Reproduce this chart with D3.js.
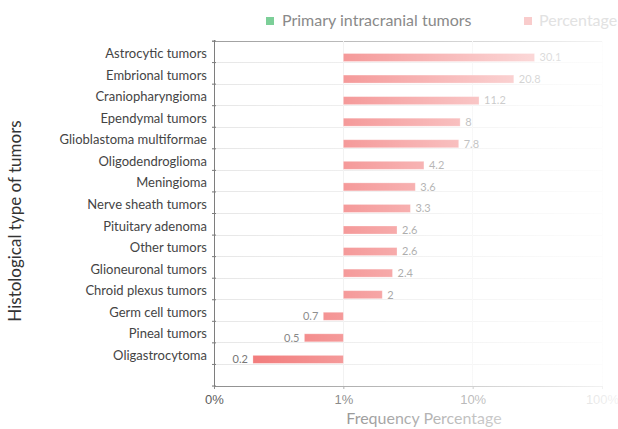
<!DOCTYPE html>
<html>
<head>
<meta charset="utf-8">
<script src="https://cdn.jsdelivr.net/npm/d3@7"></script>
<style>
  body { margin: 0; background: #fff; }
  svg { font-family: Lato, "Open Sans", sans-serif; display: block; }
</style>
</head>
<body>
<svg id="chart" width="618" height="429"></svg>
<script>
// data
const tumors = ["Astrocytic tumors", "Embrional tumors", "Craniopharyngioma", "Ependymal tumors",
  "Glioblastoma multiformae", "Oligodendroglioma", "Meningioma", "Nerve sheath tumors",
  "Pituitary adenoma", "Other tumors", "Glioneuronal tumors", "Chroid plexus tumors",
  "Germ cell tumors", "Pineal tumors", "Oligastrocytoma"]
const percentage = [30.1, 20.8, 11.2, 8, 7.8, 4.2, 3.6, 3.3, 2.6, 2.6, 2.4, 2, 0.7, 0.5, 0.2]
const tickValues = [0.1, 1, 10, 100]
const tickLabels = ["0%", "1%", "10%", "100%"]
const legendNames = ["Primary intracranial tumors", "Percentage"]

const svg = d3.select("#chart")
let plotLeft = 214, plotRight = 602, plotTop = 41, plotBottom = 386

let x = d3.scaleLog().domain([0.1, 100]).range([plotLeft, plotRight])
// one empty band at the bottom, as in the original
let y = d3.scaleBand().domain(tumors.concat([""])).range([plotTop, plotBottom])
let bw = y.bandwidth()

let defs = svg.append("defs")
let fade = defs.append("linearGradient")
  .attr("id", "fade")
  .attr("gradientUnits", "userSpaceOnUse")
  .attr("x1", 190).attr("x2", 618).attr("y1", 0).attr("y2", 0)
fade.append("stop").attr("offset", 0).attr("stop-color", "#fff").attr("stop-opacity", 0)
fade.append("stop").attr("offset", 1).attr("stop-color", "#fff").attr("stop-opacity", 0.92)

// horizontal grid at band boundaries
svg.append("g").selectAll("line")
  .data(d3.range(y.domain().length + 1))
  .join("line")
    .attr("x1", plotLeft - 2).attr("x2", plotRight)
    .attr("y1", i => plotTop + i * bw).attr("y2", i => plotTop + i * bw)
    .attr("stroke", (d, i) => i == 0 ? "#999" : "#e6e6e6")
    .attr("shape-rendering", "crispEdges")

// vertical grid
svg.append("g").selectAll("line")
  .data(tickValues.slice(1))
  .join("line")
    .attr("x1", d => x(d)).attr("x2", d => x(d))
    .attr("y1", plotTop).attr("y2", plotBottom)
    .attr("stroke", "#ececec")
    .attr("shape-rendering", "crispEdges")

// x axis
let xAxis = svg.append("g")
  .attr("transform", "translate(0," + plotBottom + ")")
  .call(d3.axisBottom(x).tickValues(tickValues).tickSize(3)
    .tickFormat((d, i) => tickLabels[i]))
xAxis.select(".domain").attr("stroke", "#888")
xAxis.selectAll(".tick line").attr("stroke", "#888")
xAxis.selectAll("text")
  .attr("fill", "#555")
  .attr("font-size", 13)
  .attr("dy", "0.95em")

// left axis line + ticks
svg.append("line")
  .attr("x1", plotLeft).attr("x2", plotLeft).attr("y1", plotTop - 1).attr("y2", plotBottom)
  .attr("stroke", "#777")
  .attr("shape-rendering", "crispEdges")
svg.append("g").selectAll("line")
  .data(d3.range(y.domain().length + 1))
  .join("line")
    .attr("x1", plotLeft - 2).attr("x2", plotLeft + 2)
    .attr("y1", i => plotTop + i * bw).attr("y2", i => plotTop + i * bw)
    .attr("stroke", "#777")

// category labels
svg.append("g").selectAll("text")
  .data(tumors)
  .join("text")
    .attr("x", 207)
    .attr("y", d => y(d) + 17)
    .attr("text-anchor", "end")
    .attr("font-size", 13)
    .attr("fill", "#444")
    .text(d => d)

// bars from the 1% baseline
let barOff = 12.5, barH = 8
svg.append("g").selectAll("rect")
  .data(tumors)
  .join("rect")
    .attr("x", (d, i) => Math.min(x(1), x(percentage[i])))
    .attr("y", d => y(d) + barOff)
    .attr("width", (d, i) => Math.abs(x(percentage[i]) - x(1)))
    .attr("height", barH)
    .attr("fill", "#f06868")
    .attr("stroke", "#fff")
    .attr("stroke-opacity", 0.35)
    .attr("stroke-width", 0.8)

// value labels
svg.append("g").selectAll("text")
  .data(tumors)
  .join("text")
    .attr("x", (d, i) => percentage[i] >= 1 ? x(percentage[i]) + 5 : x(percentage[i]) - 5)
    .attr("y", d => y(d) + barOff + barH / 2)
    .attr("dy", "0.35em")
    .attr("text-anchor", (d, i) => percentage[i] >= 1 ? "start" : "end")
    .attr("font-size", 11)
    .attr("fill", "#666")
    .text((d, i) => percentage[i])

// axis titles
svg.append("text")
  .attr("x", 424).attr("y", 424)
  .attr("text-anchor", "middle")
  .attr("font-size", 16)
  .attr("fill", "#666")
  .text("Frequency Percentage")

svg.append("text")
  .attr("transform", "translate(21,221) rotate(-90)")
  .attr("text-anchor", "middle")
  .attr("font-size", 17)
  .attr("fill", "#333")
  .text("Histological type of tumors")

// fading towards the right, like the original picture
svg.append("rect")
  .attr("x", 190).attr("y", 34)
  .attr("width", 428).attr("height", 395)
  .attr("fill", "url(#fade)")

// legend
let legend = svg.append("g")
legend.selectAll("rect")
  .data(legendNames)
  .join("rect")
    .attr("x", (d, i) => i == 0 ? 266 : 524)
    .attr("y", 17)
    .attr("width", 8).attr("height", 8)
    .attr("fill", (d, i) => i == 0 ? "#7ccf98" : "#f9cccc")
legend.selectAll("text")
  .data(legendNames)
  .join("text")
    .attr("x", (d, i) => i == 0 ? 282 : 539)
    .attr("y", 26)
    .attr("font-size", 16)
    .attr("fill", (d, i) => i == 0 ? "#8a8a8a" : "#e2e2e2")
    .text(d => d)
</script>
</body>
</html>
